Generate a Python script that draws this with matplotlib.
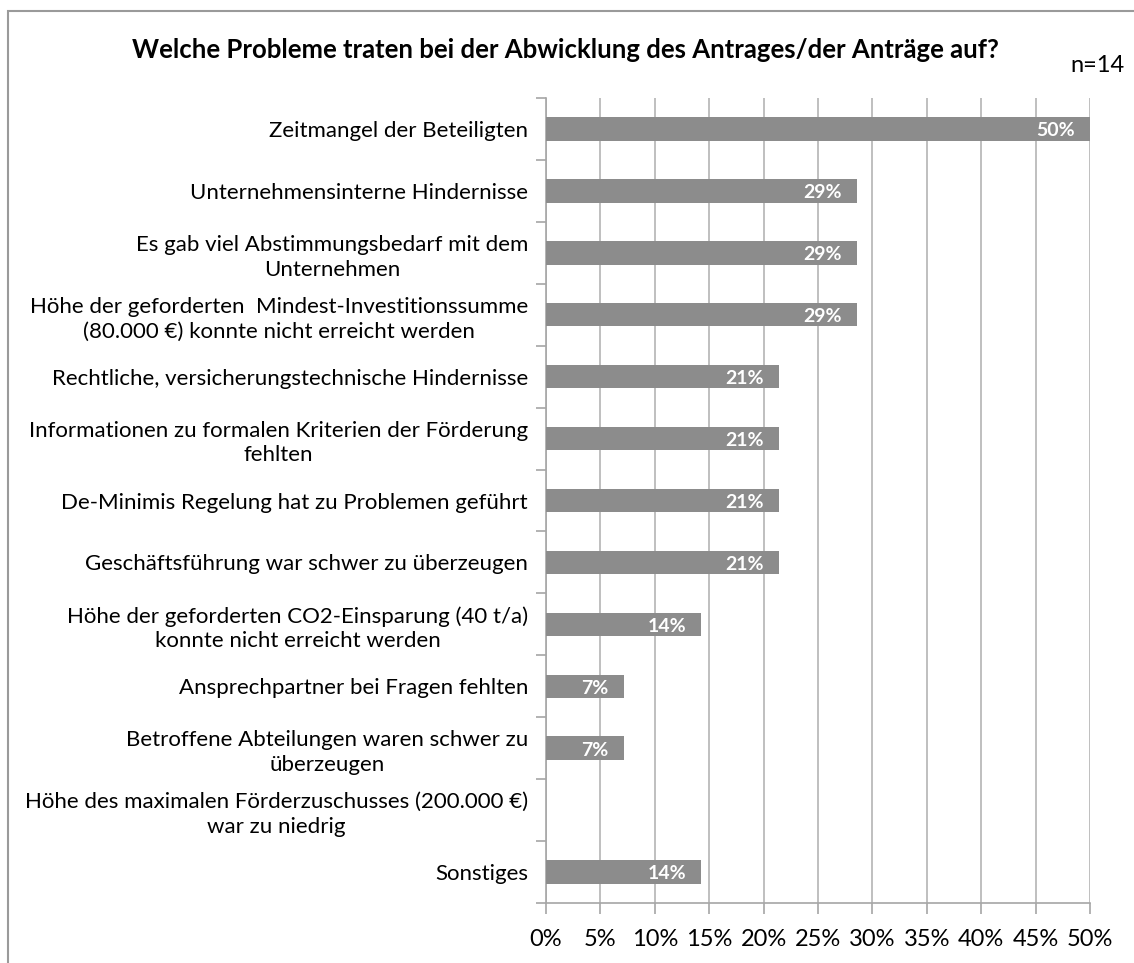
import numpy as np
import matplotlib.pyplot as plt
from matplotlib.patches import Rectangle

plt.rcParams['font.family'] = ['Lato', 'DejaVu Sans']

# data
categories = [
    "Zeitmangel der Beteiligten",
    "Unternehmensinterne Hindernisse",
    "Es gab viel Abstimmungsbedarf mit dem\nUnternehmen",
    "Höhe der geforderten  Mindest-Investitionssumme\n(80.000 €) konnte nicht erreicht werden",
    "Rechtliche, versicherungstechnische Hindernisse",
    "Informationen zu formalen Kriterien der Förderung\nfehlten",
    "De-Minimis Regelung hat zu Problemen geführt",
    "Geschäftsführung war schwer zu überzeugen",
    "Höhe der geforderten CO2-Einsparung (40 t/a)\nkonnte nicht erreicht werden",
    "Ansprechpartner bei Fragen fehlten",
    "Betroffene Abteilungen waren schwer zu\nüberzeugen",
    "Höhe des maximalen Förderzuschusses (200.000 €)\nwar zu niedrig",
    "Sonstiges",
]
counts = [7, 4, 4, 4, 3, 3, 3, 3, 2, 1, 1, 0, 2]
n_total = 14
shares = [c / n_total * 100 for c in counts]
xticks = list(range(0, 55, 5))

W, H = 1134, 963
fig = plt.figure(figsize=(W / 100, H / 100), dpi=100)
ax = fig.add_axes([546 / W, 60 / H, 544 / W, 805 / H])

ypos = np.arange(len(categories))
ax.barh(ypos, shares, height=0.38, color="#8c8c8c", zorder=3)
ax.set_ylim(len(categories) - 0.5, -0.5)
ax.set_xlim(0, 50)

# value labels inside bars
for y, v in zip(ypos, shares):
    if v > 0:
        ax.text(v - 1.4, y + 0.03, f"{v:.0f}%", ha="right", va="center",
                color="white", fontsize=14, fontweight="bold", zorder=4)

# axes styling
ax.set_xticks(xticks)
ax.set_xticklabels([f"{t}%" for t in xticks], fontsize=17)
ax.tick_params(axis="x", length=8, width=1.2, color="#a6a6a6", pad=11)
ax.xaxis.grid(True, color="#b4b4b4", linewidth=1.2, zorder=0)

ax.set_yticks(ypos)
ax.set_yticklabels(categories, fontsize=16, multialignment="center", linespacing=1.3)
ax.tick_params(axis="y", which="major", length=0, pad=13)
ax.set_yticks(np.arange(-0.5, len(categories)), minor=True)
ax.tick_params(axis="y", which="minor", length=7, width=1.2, color="#a6a6a6")

for side in ["top", "right"]:
    ax.spines[side].set_visible(False)
for side in ["left", "bottom"]:
    ax.spines[side].set_color("#a6a6a6")
    ax.spines[side].set_linewidth(1.2)

fig.text(565 / W, 1 - 50 / H, "Welche Probleme traten bei der Abwicklung des Antrages/der Anträge auf?",
         ha="center", va="center", fontsize=18.5, fontweight="bold")
fig.text(1097 / W, 1 - 66 / H, f"n={n_total}", ha="center", va="center", fontsize=17)

# outer frame
fig.patches.append(Rectangle((8 / W, -0.05), 1.2, 1 - 11 / H + 0.05, transform=fig.transFigure,
                             fill=False, edgecolor="#9a9a9a", linewidth=1.5))

fig.savefig("out.png", dpi=100)
